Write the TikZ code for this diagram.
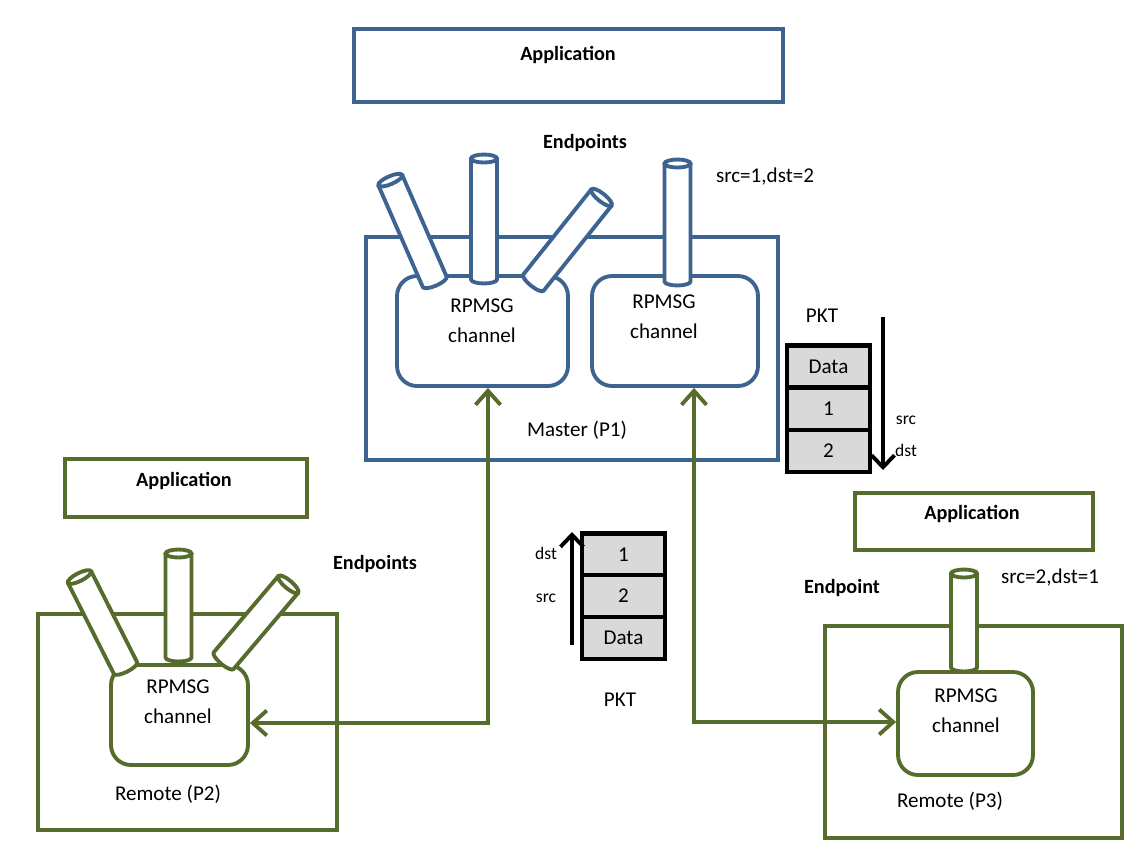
\documentclass[tikz,border=0pt]{standalone}
\usepackage{fontspec}
\setmainfont{Carlito}
\usetikzlibrary{arrows.meta}
\definecolor{mblue}{RGB}{61,99,145}
\definecolor{rgreen}{RGB}{86,108,44}
\tikzset{
  pipe/.pic={
    \draw[pic actions, fill=white] (-0.26cm,#1) -- (-0.26cm,-#1)
      arc[start angle=180, end angle=360, x radius=0.26cm, y radius=0.08cm] -- (0.26cm,#1);
    \draw[pic actions, fill=white] (0,#1) ellipse[x radius=0.26cm, y radius=0.08cm];
  }
}
\begin{document}
\begin{tikzpicture}[x=0.02cm, y=-0.02cm,
    font=\fontsize{12}{17}\selectfont,
    title/.style={font=\fontsize{11.5}{14}\selectfont\bfseries},
    small/.style={font=\fontsize{10}{12}\selectfont},
    mbox/.style={rectangle, draw=mblue, line width=2.2pt},
    rbox/.style={rectangle, draw=rgreen, line width=2.2pt},
    chan/.style={rounded corners=0.4cm},
    mpipe/.style={draw=mblue, line width=2.2pt},
    rpipe/.style={draw=rgreen, line width=2.2pt},
    field/.style={rectangle, draw, line width=2.4pt, fill=gray!30, minimum width=1.66cm, minimum height=0.84cm},
    link/.style={draw=rgreen, line width=2.2pt, >={Straight Barb[length=2.8mm,width=5mm]}, <->},
    flow/.style={line width=2.2pt, >={Straight Barb[length=2.4mm,width=4.6mm]}, ->}
  ]
  \useasboundingbox (0,0) rectangle (1146,853);

  % master side
  \node[mbox, minimum width=8.58cm, minimum height=1.46cm] (app1) at (568.5,65.5) {};
  \node[title] at (568,55) {Application};
  \node[mbox, minimum width=8.24cm, minimum height=4.46cm] (master) at (572,348.5) {};
  \node at (577,430) {Master (P1)};
  \node[mbox, chan, minimum width=3.42cm, minimum height=2.2cm] (mc1) at (482.5,331) {};
  \node[mbox, chan, minimum width=3.32cm, minimum height=2.2cm] (mc2) at (675,331) {};
  \node[align=center] at (482,321) {RPMSG\\channel};
  \node[align=center] at (664,317) {RPMSG\\channel};
  \pic[mpipe, rotate=23.6] (ep1) at (412.5,231) {pipe=1.11cm};
  \pic[mpipe] (ep2) at (484,219) {pipe=1.21cm};
  \pic[mpipe, rotate=-38.6] (ep3) at (567.5,240) {pipe=1.09cm};
  \pic[mpipe] (ep4) at (677.5,222.5) {pipe=1.18cm};
  \node[title] at (585,143) {Endpoints};
  \node at (765,177) {src=1,dst=2};

  % packet master -> remote
  \node at (822,316) {PKT};
  \node[field] (pd1) at (828.5,366.5) {Data};
  \node[field] (ps1) at (828.5,409) {1};
  \node[field] (pt1) at (828.5,451) {2};
  \coordinate (fa1) at (883,317);
  \coordinate (fb1) at (883,470);
  \draw[flow] (fa1) -- (fb1);
  \node[small] at (906,420) {src};
  \node[small] at (906,450) {dst};

  % packet remote -> master
  \node[field] (pt2) at (623.5,554.5) {1};
  \node[field] (ps2) at (623.5,596) {2};
  \node[field] (pd2) at (623.5,638) {Data};
  \coordinate (fa2) at (572,645);
  \coordinate (fb2) at (572,532);
  \draw[flow] (fa2) -- (fb2);
  \node[small] at (546,553) {dst};
  \node[small] at (546,598) {src};
  \node at (620,700) {PKT};

  % remote P2
  \node[rbox, minimum width=4.84cm, minimum height=1.16cm] (app2) at (186,488) {};
  \node[title] at (184,481) {Application};
  \node[rbox, minimum width=5.98cm, minimum height=4.32cm] (rem2) at (187.5,722) {};
  \node at (168,794) {Remote (P2)};
  \node[rbox, chan, minimum width=2.74cm, minimum height=2cm] (rc2) at (179.5,715) {};
  \node[align=center] at (178,702) {RPMSG\\channel};
  \pic[rpipe, rotate=26.8] (ep5) at (102.5,622.5) {pipe=1.02cm};
  \pic[rpipe] (ep6) at (178.5,605.5) {pipe=1.04cm};
  \pic[rpipe, rotate=-40.3] (ep7) at (256,622.5) {pipe=1.0cm};
  \node[title] at (375,564) {Endpoints};

  % remote P3
  \node[rbox, minimum width=4.76cm, minimum height=1.14cm] (app3) at (974,521.5) {};
  \node[title] at (972,514) {Application};
  \node[rbox, minimum width=5.94cm, minimum height=4.24cm] (rem3) at (973.5,732) {};
  \node at (950,801) {Remote (P3)};
  \node[rbox, chan, minimum width=2.7cm, minimum height=2.06cm] (rc3) at (965.5,723.5) {};
  \node[align=center] at (966,711) {RPMSG\\channel};
  \pic[rpipe] (ep8) at (964,620.5) {pipe=0.94cm};
  \node[title] at (842,588) {Endpoint};
  \node at (1050,578) {src=2,dst=1};

  % channels
  \draw[link] (rc2.east |- 0,723) -| (mc1.south -| 488,0);
  \draw[link] (rc3.west |- 0,722) -| (mc2.south -| 694,0);
\end{tikzpicture}
\end{document}
